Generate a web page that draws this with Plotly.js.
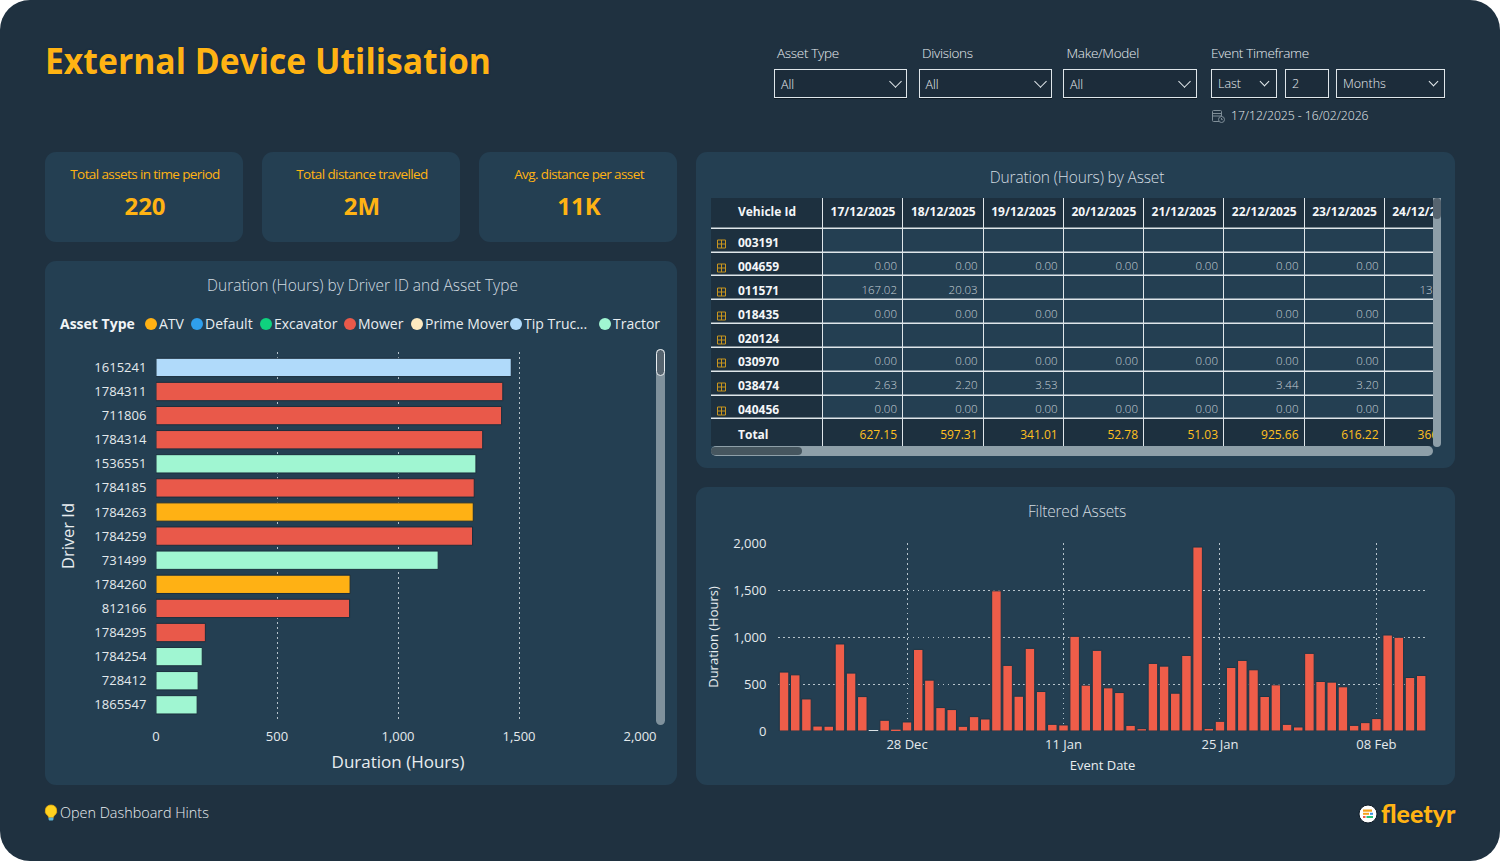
<!DOCTYPE html>
<html><head><meta charset="utf-8">
<script src="https://cdn.plot.ly/plotly-3.0.1.min.js"></script>
<style>
html,body{margin:0;padding:0;background:#fff;width:1500px;height:861px;overflow:hidden;font-family:'Open Sans',sans-serif}
#bg{position:absolute;left:0;top:0;width:1500px;height:861px;background:#1f3140;border-radius:30px}
.abs{position:absolute}
.panel{position:absolute;background:#243f52;border-radius:11px}
.txt{position:absolute;white-space:nowrap;line-height:1}
.ctr{transform:translateX(-50%)}
.box{position:absolute;box-sizing:border-box;border:1px solid #dfe6ea;background:#1c2c3a;box-shadow:0 1px 0 #0e1a24}
.chev{position:absolute;border-right:1px solid #e6ecef;border-bottom:1px solid #e6ecef;transform:rotate(45deg)}
.plot{position:absolute}
</style></head><body>
<div id="bg"></div>
<div class="panel" style="left:45px;top:152px;width:198px;height:90px"></div>
<div class="panel" style="left:262px;top:152px;width:198px;height:90px"></div>
<div class="panel" style="left:479px;top:152px;width:198px;height:90px"></div>
<div class="panel" style="left:45px;top:261px;width:632px;height:524px"></div>
<div class="panel" style="left:696px;top:152px;width:759px;height:316px"></div>
<div class="panel" style="left:696px;top:487px;width:759px;height:298px"></div>

<div class="txt" style="left:45px;top:43px;font-size:36px;font-weight:700;color:#ffb313;text-shadow:0 0 2px #0b2a55;transform-origin:left;transform:scaleX(.936)">External Device Utilisation</div>
<div id="chrome"></div>

<div id="barChart" class="plot" style="left:45px;top:261px;width:632px;height:524px"></div>
<div id="tableChart" class="plot" style="left:711px;top:198px;width:722px;height:248px;overflow:hidden"></div>
<div id="lineChart" class="plot" style="left:696px;top:487px;width:759px;height:298px"></div>

<!-- scrollbars -->
<div class="abs" style="left:656px;top:349px;width:9px;height:376px;background:#7f919c;border-radius:5px"></div>
<div class="abs" style="left:656px;top:349px;width:9px;height:27px;box-sizing:border-box;background:#56646f;border:1px solid #e8edf0;border-radius:5px"></div>
<div class="abs" style="left:1433px;top:198px;width:8px;height:249px;background:#8d9ea8;border-radius:0 0 4px 4px"></div>
<div class="abs" style="left:1433px;top:198px;width:8px;height:21px;background:#56646f;border-radius:4px"></div>
<div class="abs" style="left:711px;top:446px;width:722px;height:10px;background:#8e9fa8;border-radius:5px"></div>
<div class="abs" style="left:711px;top:447px;width:91px;height:8px;background:#46565f;border-radius:4px"></div>

<!-- calendar icon -->
<svg class="abs" style="left:1211px;top:109px" width="15" height="15" viewBox="0 0 15 15" fill="none" stroke="#7f8e98" stroke-width="1"><rect x="1.5" y="1.5" width="9" height="11" rx="1"/><path d="M1.5 4.5h9M1.5 7h9"/><circle cx="10.5" cy="10.5" r="3" fill="#1f3140"/><path d="M10.5 9v1.6h1.2"/></svg>
<!-- bulb icon -->
<svg class="abs" style="left:44px;top:804px" width="14" height="18" viewBox="0 0 14 18"><path d="M7 1a5.8 5.8 0 0 0-3.4 10.5c.6.5.9 1.2 1 2h4.8c.1-.8.4-1.5 1-2A5.8 5.8 0 0 0 7 1z" fill="#ffd21f" stroke="#e8a80c" stroke-width=".7"/><rect x="4.6" y="13.4" width="4.8" height="3" rx=".8" fill="#5fb6d6"/></svg>
<!-- logo icon -->
<svg class="abs" style="left:1358px;top:804px" width="20" height="20" viewBox="0 0 20 20"><circle cx="10" cy="10" r="9" fill="#fff" stroke="#0f1c28" stroke-width="1"/><rect x="5" y="5.5" width="9" height="2.2" fill="#f7a11a"/><rect x="5" y="8.8" width="6" height="2" fill="#f7a11a"/><rect x="12" y="8.8" width="3" height="2" fill="#3d8fe0"/><rect x="5" y="12" width="2.5" height="2" fill="#ef5b45"/><rect x="8.5" y="12" width="6.5" height="2" fill="#27c07a"/></svg>

<script>
// ---- Bar chart: duration by driver
const driverIds = ['1615241','1784311','711806','1784314','1536551','1784185','1784263','1784259','731499','1784260','812166','1784295','1784254','728412','1865547'];
const driverHours = [1468,1433,1428,1350,1322,1315,1311,1308,1166,802,800,204,191,174,170];
const driverAsset = ['Tip Truc...','Mower','Mower','Mower','Tractor','Mower','ATV','Mower','Tractor','ATV','Mower','Mower','Tractor','Tractor','Tractor'];
const assetTypes = ['ATV','Default','Excavator','Mower','Prime Mover','Tip Truc...','Tractor'];
const assetColors = ['#ffb114','#2f9fec','#0fd27e','#e9594a','#fdeac0','#b0dafa','#a0f6d2'];
const legendDotX = [151,197,266,350,417,516,605];

// ---- Daily totals, 17 Dec 2025 to 12 Feb 2026
const eventDates = ['2025-12-17','2025-12-18','2025-12-19','2025-12-20','2025-12-21','2025-12-22','2025-12-23','2025-12-24','2025-12-25','2025-12-26','2025-12-27','2025-12-28','2025-12-29','2025-12-30','2025-12-31','2026-01-01','2026-01-02','2026-01-03','2026-01-04','2026-01-05','2026-01-06','2026-01-07','2026-01-08','2026-01-09','2026-01-10','2026-01-11','2026-01-12','2026-01-13','2026-01-14','2026-01-15','2026-01-16','2026-01-17','2026-01-18','2026-01-19','2026-01-20','2026-01-21','2026-01-22','2026-01-23','2026-01-24','2026-01-25','2026-01-26','2026-01-27','2026-01-28','2026-01-29','2026-01-30','2026-01-31','2026-02-01','2026-02-02','2026-02-03','2026-02-04','2026-02-05','2026-02-06','2026-02-07','2026-02-08','2026-02-09','2026-02-10','2026-02-11','2026-02-12'];
const eventHours = [627.15,597.31,341.01,52.78,51.03,925.66,616.22,366,10,114,14,96,868,541,249,228,50,153,128,1491,698,370,879,420,71,64,1007,488,858,459,409,60,25,719,690,402,804,1957,28,103,676,751,651,367,491,71,43,826,527,520,470,60,89,132,1021,997,569,591];

// ---- Table
const headerLabels = ['Vehicle Id','17/12/2025','18/12/2025','19/12/2025','20/12/2025','21/12/2025','22/12/2025','23/12/2025','24/12/2025'];
const vehicleIds = ['003191','004659','011571','018435','020124','030970','038474','040456','Total'];
const col1 = ['','0.00','167.02','0.00','','0.00','2.63','0.00','627.15'];
const col2 = ['','0.00','20.03','0.00','','0.00','2.20','0.00','597.31'];
const col3 = ['','0.00','','0.00','','0.00','3.53','0.00','341.01'];
const col4 = ['','0.00','','','','0.00','','0.00','52.78'];
const col5 = ['','0.00','','','','0.00','','0.00','51.03'];
const col6 = ['','0.00','','0.00','','0.00','3.44','0.00','925.66'];
const col7 = ['','0.00','','0.00','','0.00','3.20','0.00','616.22'];
const col8 = ['','','132.40','','','','','','366.00'];
const dateColumns = [col1,col2,col3,col4,col5,col6,col7,col8];
// table grid, in pixels of its own axes
const colEdges = [-2,112,192,272.6,352.7,433,513,593.5,673.6,750];
const rowEdges = [-2,30.5,54.7,78,102,126,149.5,173.5,197.5,221,251];
const rowTextY = [45.5,69.5,93.5,117.5,141.5,164.5,188.5,212.5,237.5];

// ---- Chrome text
const filterLabels = ['Asset Type','Divisions','Make/Model','Event Timeframe'];
const kpiLabels = ['Total assets in time period','Total distance travelled','Avg. distance per asset'];
const kpiValues = ['220','2M','11K'];

const FONT = "'Open Sans', sans-serif";
const chrome = document.getElementById('chrome');
function addTxt(s, css, cls){const d=document.createElement('div');d.className='txt '+(cls||'');d.style.cssText=css;d.textContent=s;chrome.appendChild(d);}
function addBox(l,t,w,h,val,fs,dy,chevC,chevS){
  const b=document.createElement('div');b.className='box';b.style.cssText=`left:${l}px;top:${t}px;width:${w}px;height:${h}px`;chrome.appendChild(b);
  addTxt(val,`left:${l+7}px;top:${t+dy}px;font-size:${fs}px;font-weight:300;color:#e8edf0`);
  if(chevC){const c=document.createElement('div');c.className='chev';c.style.cssText=`left:${chevC-chevS/2}px;top:${t+13-chevS/2-1}px;width:${chevS}px;height:${chevS}px`;chrome.appendChild(c);}
}
[777,922,1066.5,1211].forEach((x,i)=>addTxt(filterLabels[i],`left:${x}px;top:47px;font-size:13.5px;font-weight:300;color:#e8edf0;letter-spacing:-.3px`));
addBox(774,69,133,29,'All',12.5,10,895,8);addBox(918.5,69,133.5,29,'All',12.5,10,1039.5,8);addBox(1063,69,133.5,29,'All',12.5,10,1184,8);
addBox(1211,69,66,29,'Last',12.5,9,1264,6);addBox(1285,69,44,29,'2',12.5,9,0,0);addBox(1336,69,109,29,'Months',12.5,9,1432.5,6);
addTxt('17/12/2025 - 16/02/2026','left:1231px;top:110px;font-size:12.2px;font-weight:300;color:#e8edf0;letter-spacing:-.03px');
[144,361,578].forEach((x,i)=>{
  addTxt(kpiLabels[i],`left:${x+1}px;top:168px;font-size:13.5px;font-weight:400;color:#ffb313;letter-spacing:-.6px`,'ctr');
  addTxt(kpiValues[i],`left:${x+1}px;top:194px;font-size:24px;font-weight:700;color:#ffb313`,'ctr');
});
addTxt('Duration (Hours) by Driver ID and Asset Type','left:362.5px;top:278px;font-size:15.5px;font-weight:300;color:#d3dce1','ctr');
addTxt('Duration (Hours) by Asset','left:1077px;top:170px;font-size:15.5px;font-weight:300;color:#d3dce1;letter-spacing:-.15px','ctr');
addTxt('Filtered Assets','left:1077px;top:504px;font-size:15.5px;font-weight:300;color:#d3dce1;letter-spacing:-.2px','ctr');
addTxt('Open Dashboard Hints','left:60px;top:806px;font-size:14.4px;font-weight:300;color:#e8edf0');
addTxt('fleetyr','left:1381px;top:801px;font-size:25px;font-weight:900;font-family:Lato,sans-serif;color:#ffb313;text-shadow:0 0 2px #0b2a55');

// ---- Bar chart
const axisText = '#e4eaed', gridC = '#b6c3cb', DOTS='1.5px,3.5px';
const colorOf = Object.fromEntries(assetTypes.map((a,i)=>[a,assetColors[i]]));
const W1=632,H1=524,mL1=111,mR1=37,mT1=91,mB1=65;
const pw=W1-mL1-mR1,ph=H1-mT1-mB1;
const legY=1-(324-261-mT1)/ph;
const legendShapes=[];
const legendAnn=[{text:'<b>Asset Type</b>',xref:'paper',yref:'paper',x:(58-156)/pw,y:legY,xanchor:'left',yanchor:'middle',showarrow:false,font:{family:FONT,size:14,color:'#f1f4f6'}}];
assetTypes.forEach((a,i)=>{
  const px=(legendDotX[i]-156)/pw;
  legendAnn.push({text:a,xref:'paper',yref:'paper',x:px+6/pw,y:legY,xanchor:'left',yanchor:'middle',showarrow:false,font:{family:FONT,size:14,color:'#e8edf0'}});
  legendShapes.push({type:'circle',xref:'paper',yref:'paper',x0:px-6/pw,x1:px+6/pw,y0:legY-6/ph,y1:legY+6/ph,fillcolor:assetColors[i],line:{width:0}});
});
Plotly.newPlot('barChart',[{type:'bar',orientation:'h',y:driverIds,x:driverHours,
  marker:{color:driverAsset.map(a=>colorOf[a]),line:{color:'#1b2e3d',width:1}},hoverinfo:'x+y'}],{
  width:W1,height:H1,margin:{l:mL1,r:mR1,t:mT1,b:mB1},paper_bgcolor:'rgba(0,0,0,0)',plot_bgcolor:'rgba(0,0,0,0)',showlegend:false,bargap:0.24,
  xaxis:{range:[0,2000],tickvals:[0,500,1000,1500,2000],tickformat:',d',showgrid:true,gridcolor:gridC,griddash:DOTS,gridwidth:1,zeroline:false,showline:false,
    ticks:'outside',ticklen:4,tickcolor:'rgba(0,0,0,0)',tickfont:{family:FONT,size:13,color:axisText},
    title:{text:'Duration (Hours)',standoff:12,font:{family:FONT,size:17,color:'#e8edf0'}}},
  yaxis:{type:'category',categoryorder:'array',categoryarray:driverIds,range:[14.63,-0.64],showgrid:false,zeroline:false,showline:false,
    ticks:'outside',ticklen:6,tickcolor:'rgba(0,0,0,0)',tickfont:{family:FONT,size:13,color:axisText},
    title:{text:'Driver Id',standoff:15,font:{family:FONT,size:16.5,color:'#e8edf0'}}},
  annotations:legendAnn,shapes:legendShapes,font:{family:FONT}
},{displayModeBar:false,staticPlot:true});

// ---- Time series
Plotly.newPlot('lineChart',[{type:'bar',x:eventDates,y:eventHours,
  marker:{color:eventDates.map(d=>d==='2025-12-25'?'#e8edf0':'#ef5d49'),line:{color:'#1b3647',width:eventHours.map(v=>v<20?0:1)}},hoverinfo:'x+y'}],{
  width:759,height:298,margin:{l:81.5,r:28,t:56.3,b:54.3},paper_bgcolor:'rgba(0,0,0,0)',plot_bgcolor:'rgba(0,0,0,0)',showlegend:false,bargap:0.15,
  xaxis:{type:'date',range:['2025-12-16 11:00','2026-02-12 12:30'],tick0:'2025-12-28',dtick:1209600000,tickformat:'%d %b',showgrid:true,gridcolor:gridC,griddash:DOTS,gridwidth:1,zeroline:false,showline:false,
    ticks:'outside',ticklen:1,tickcolor:'rgba(0,0,0,0)',tickfont:{family:FONT,size:13,color:axisText},
    title:{text:'Event Date',standoff:9,font:{family:FONT,size:13,color:'#e8edf0'}}},
  yaxis:{range:[0,2000],tickvals:[0,500,1000,1500,2000],tickformat:',d',showgrid:true,gridcolor:gridC,griddash:DOTS,gridwidth:1,zeroline:false,showline:false,
    ticks:'outside',ticklen:8,tickcolor:'rgba(0,0,0,0)',tickfont:{family:FONT,size:13,color:axisText},
    title:{text:'Duration (Hours)',standoff:11,font:{family:FONT,size:13,color:'#e8edf0'}}},
  font:{family:FONT}
},{displayModeBar:false,staticPlot:true});

// ---- Table, drawn on its own axes: a gapped heatmap for cells, text traces for contents
const nRows=vehicleIds.length, nCols=headerLabels.length;
const cellKind=Array.from({length:nRows+1},(_,r)=>Array.from({length:nCols},(_,c)=>(r===0||r===nRows||c===0)?1:0));
const colCentre=i=>(Math.max(colEdges[i],0)+colEdges[i+1])/2;
const tableTraces=[
 {type:'heatmap',x:colEdges.map((e,i)=>i===nCols?754:e),y:rowEdges,z:cellKind,zmin:0,zmax:1,showscale:false,xgap:1,ygap:1.5,colorscale:[[0,'#243f52'],[1,'#1d303f']],hoverinfo:'skip'},
 {type:'scatter',mode:'text',x:headerLabels.map((_,i)=>i===nCols-1?713.6:colCentre(i)),y:headerLabels.map(()=>14.5),text:headerLabels,textposition:'middle center',cliponaxis:true,
  textfont:{family:FONT,size:12,weight:700,color:'#f4f6f8'},hoverinfo:'skip'},
 {type:'scatter',mode:'text',x:vehicleIds.map(()=>27),y:rowTextY,text:vehicleIds,textposition:'middle right',cliponaxis:true,
  textfont:{family:FONT,size:12,weight:700,color:'#f4f6f8'},hoverinfo:'skip'},
 {type:'scatter',mode:'markers',x:vehicleIds.slice(0,-1).map(()=>10.5),y:rowTextY.slice(0,-1).map(v=>v+0.5),
  marker:{symbol:'square-cross-open',size:8,color:'#c8951f',line:{color:'#c8951f',width:1}},hoverinfo:'skip'}
];
dateColumns.forEach((col,i)=>{
  tableTraces.push({type:'scatter',mode:'text',x:col.map(()=>colEdges[i+2]-6),y:rowTextY,text:col,textposition:'middle left',cliponaxis:true,
    textfont:{family:FONT,size:vehicleIds.map((v,r)=>r===nRows-1?12:11.5),weight:vehicleIds.map((v,r)=>r===nRows-1?400:300),color:vehicleIds.map((v,r)=>r===nRows-1?'#ffc01f':'#c6d0d7')},hoverinfo:'skip'});
});
Plotly.newPlot('tableChart',tableTraces,{width:722,height:248,margin:{l:0,r:0,t:0,b:0,pad:0},paper_bgcolor:'rgba(0,0,0,0)',plot_bgcolor:'#dfe6ea',showlegend:false,
  xaxis:{range:[0,722],visible:false,fixedrange:true},yaxis:{range:[248,0],visible:false,fixedrange:true},font:{family:FONT}},{displayModeBar:false,staticPlot:true});
</script>
</body></html>
